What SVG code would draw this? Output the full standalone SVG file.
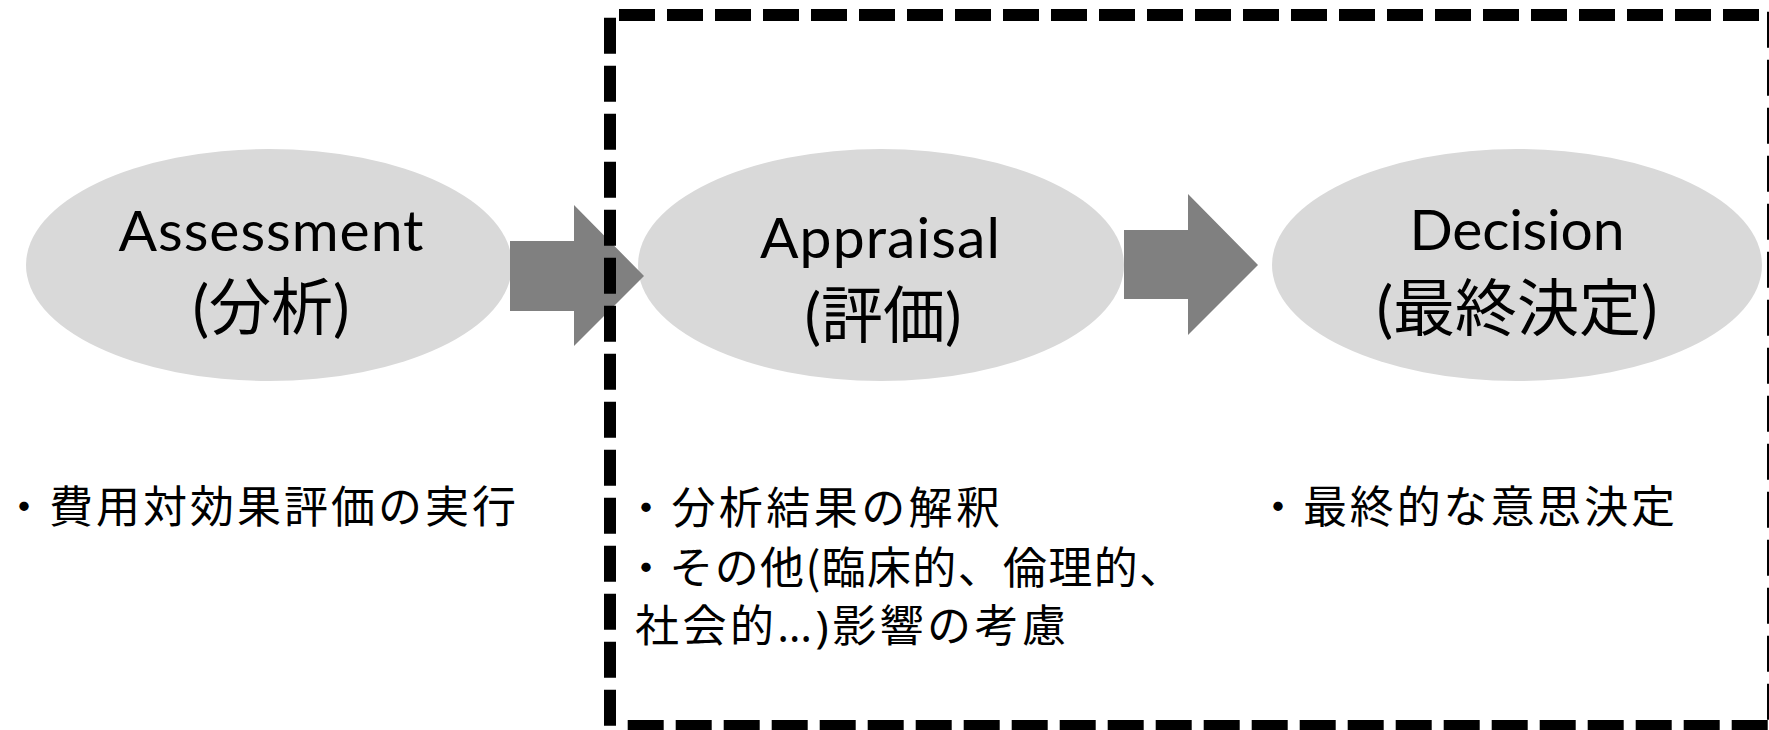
<svg xmlns="http://www.w3.org/2000/svg" width="1769" height="730" viewBox="0 0 1769 730">
  <style>
    .node { fill: #D9D9D9; }
    .arrow { fill: #808080; }
    .title { font-family: "Lato", "Noto Sans CJK JP", sans-serif; font-size: 57px; fill: #000; text-anchor: middle; }
    .sub { font-family: "Lato", "Noto Sans CJK JP", sans-serif; font-size: 62px; fill: #000; text-anchor: middle; }
    .note { font-family: "Noto Sans CJK JP", sans-serif; font-size: 44px; fill: #000; }
    .dash { fill: none; stroke: #000; stroke-width: 12; stroke-dasharray: 36 12; }
  </style>
  <rect width="1769" height="730" fill="#fff"/>

  <g id="node-assessment">
    <ellipse class="node" cx="269" cy="265" rx="243" ry="116"/>
    <text class="title" x="271" y="251" textLength="305">Assessment</text>
    <text class="sub" x="271" y="330">(分析)</text>
  </g>

  <g id="node-appraisal">
    <ellipse class="node" cx="881" cy="265" rx="243" ry="116"/>
    <text class="title" x="880" y="258" textLength="240">Appraisal</text>
    <text class="sub" x="883" y="338">(評価)</text>
  </g>

  <g id="node-decision">
    <ellipse class="node" cx="1517" cy="265" rx="245" ry="116"/>
    <text class="title" x="1517" y="250" textLength="215">Decision</text>
    <text class="sub" x="1517" y="331">(最終決定)</text>
  </g>

  <g id="connectors">
    <polygon class="arrow" points="510,241 574,241 574,205 644,276 574,346 574,311 510,311"/>
    <polygon class="arrow" points="1124,230 1188,230 1188,194 1258,265 1188,335 1188,299 1124,299"/>
  </g>

  <g id="boundary">
    <path class="dash" d="M619,15 H1780"/>
    <path class="dash" d="M610,17.7 V740"/>
    <path class="dash" d="M627.7,726 H1780"/>
    <path class="dash" d="M1773,11.7 V740"/>
  </g>

  <g id="notes">
    <text class="note" x="2" y="523" font-size="43" textLength="514">・費用対効果評価の実行</text>
    <text class="note" x="624" y="524" textLength="376">・分析結果の解釈</text>
    <text class="note" x="624" y="584" textLength="559">・その他(臨床的、倫理的、</text>
    <text class="note" x="635" y="642" textLength="431">社会的<tspan font-family="Noto Sans, sans-serif">…)</tspan>影響の考慮</text>
    <text class="note" x="1256" y="523" textLength="419">・最終的な意思決定</text>
  </g>
</svg>
